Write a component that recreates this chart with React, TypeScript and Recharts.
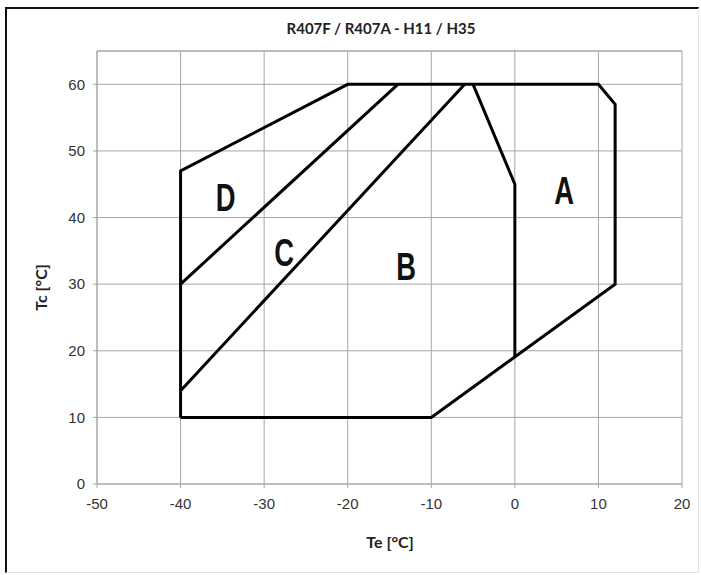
import React from 'react';
import { LineChart, Line, XAxis, YAxis, CartesianGrid, ReferenceLine, Scatter } from 'recharts';

const xTicks = [-50, -40, -30, -20, -10, 0, 10, 20];
const yTicks = [0, 10, 20, 30, 40, 50, 60];

const outerEnvelope = [
  { x: -40, y: 10 },
  { x: -40, y: 47 },
  { x: -20, y: 60 },
  { x: 10, y: 60 },
  { x: 12, y: 57 },
  { x: 12, y: 30 },
  { x: -10, y: 10 },
  { x: -40, y: 10 },
];
const dividerAB = [
  { x: -5, y: 60 },
  { x: 0, y: 45 },
  { x: 0, y: 19 },
];
const dividerBC = [
  { x: -40, y: 14 },
  { x: -6, y: 60 },
];
const dividerCD = [
  { x: -40, y: 30 },
  { x: -14, y: 60 },
];
const zoneLabels = [
  { x: -34.6, y: 43.0, label: 'D' },
  { x: -27.6, y: 34.7, label: 'C' },
  { x: -13.0, y: 32.6, label: 'B' },
  { x: 5.9, y: 44.0, label: 'A' },
];

const tickStyle = { fontFamily: "'Liberation Sans', Arial, sans-serif", fontSize: 15, fill: '#333' };
const titleFont = "Lato, 'Open Sans', sans-serif";

const ZoneLabel = (props: any) => {
  const { cx, cy, payload } = props;
  return (
    <text
      x={0}
      y={0}
      transform={`translate(${cx},${cy}) scale(0.72,1)`}
      textAnchor="middle"
      dominantBaseline="central"
      style={{ fontFamily: "'Liberation Sans', Arial, sans-serif", fontWeight: 'bold', fontSize: 38, fill: '#111' }}
    >
      {payload.label}
    </text>
  );
};

export default function App() {
  const lineProps = {
    type: 'linear' as const,
    dataKey: 'y',
    stroke: '#000',
    strokeWidth: 3,
    dot: false,
    activeDot: false,
    isAnimationActive: false,
    legendType: 'none' as const,
  };
  return (
    <div style={{ position: 'absolute', left: 0, top: 0, width: 701, height: 575, background: '#fff' }}>
      <div
        style={{
          position: 'absolute',
          left: 5,
          top: 7,
          width: 691,
          height: 563,
          borderLeft: '2px solid #111',
          borderTop: '2px solid #111',
          borderRight: '1px solid #e4e4e4',
          borderBottom: '1px solid #e4e4e4',
        }}
      />
      <div
        style={{
          position: 'absolute',
          left: 181,
          width: 400,
          top: 19,
          textAlign: 'center',
          fontFamily: titleFont,
          fontWeight: 'bold',
          fontSize: 15,
          color: '#222',
        }}
      >
        R407F / R407A - H11 / H35
      </div>
      <div
        style={{
          position: 'absolute',
          left: 340,
          width: 100,
          top: 532,
          textAlign: 'center',
          fontFamily: titleFont,
          fontWeight: 'bold',
          fontSize: 16,
          color: '#222',
        }}
      >
        Te [°C]
      </div>
      <div
        style={{
          position: 'absolute',
          left: -10,
          width: 100,
          top: 278,
          textAlign: 'center',
          fontFamily: titleFont,
          fontWeight: 'bold',
          fontSize: 16,
          color: '#222',
          transform: 'rotate(-90deg)',
        }}
      >
        Tc [°C]
      </div>
      <div style={{ position: 'absolute', left: 0, top: 0 }}>
        <LineChart width={701} height={575} margin={{ top: 51, right: 19, bottom: 61, left: 57 }}>
          <CartesianGrid stroke="#a6a6a6" strokeWidth={1} />
          <XAxis
            type="number"
            dataKey="x"
            domain={[-50, 20]}
            ticks={xTicks}
            allowDataOverflow
            height={30}
            tickSize={4}
            tickMargin={10}
            tick={tickStyle}
            stroke="#a6a6a6"
            tickLine={{ stroke: '#a6a6a6' }}
          />
          <YAxis
            type="number"
            domain={[0, 65]}
            ticks={yTicks}
            allowDataOverflow
            width={40}
            tickSize={4}
            tickMargin={8}
            tick={tickStyle}
            stroke="#a6a6a6"
            tickLine={{ stroke: '#a6a6a6' }}
          />
          <ReferenceLine y={65} stroke="#a6a6a6" ifOverflow="visible" />
          <Line {...lineProps} data={outerEnvelope} />
          <Line {...lineProps} data={dividerAB} />
          <Line {...lineProps} data={dividerBC} />
          <Line {...lineProps} data={dividerCD} />
          <Scatter data={zoneLabels} dataKey="y" shape={ZoneLabel} isAnimationActive={false} legendType="none" />
        </LineChart>
      </div>
    </div>
  );
}
